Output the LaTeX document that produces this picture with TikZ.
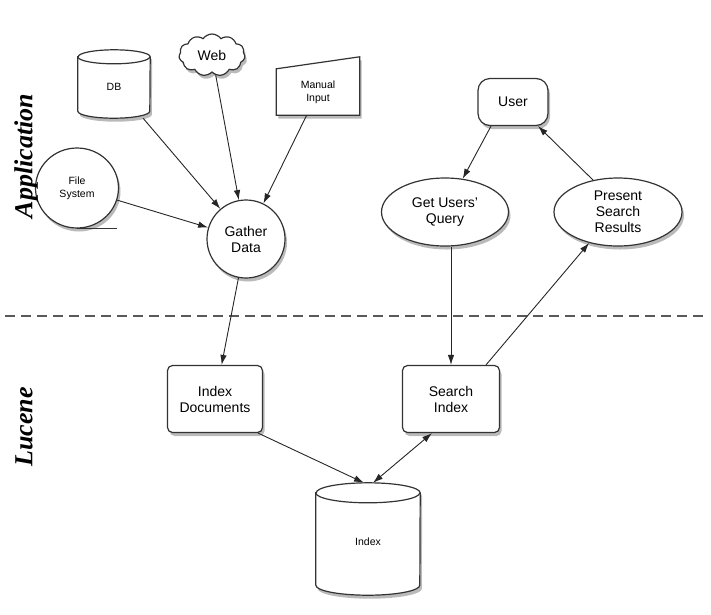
\documentclass[tikz,border=0pt]{standalone}
\usepackage{fontspec}
\setmainfont{Liberation Sans}
\newfontfamily\lanefont{Liberation Serif}
\usetikzlibrary{arrows.meta,positioning,shapes.geometric,shapes.symbols,shadows}
\pgfdeclarelayer{background}
\pgfsetlayers{background,main}

\begin{document}
\begin{tikzpicture}[x=1pt,y=-1pt,
  every node/.style={font=\fontsize{14}{16}\selectfont},
  shade/.style={drop shadow={shadow xshift=2pt,shadow yshift=-3.5pt,opacity=0.45,fill=black!60}},
  small/.style={font=\fontsize{10.5}{13}\selectfont},
  outline/.style={draw=black!80,line width=1.2pt,fill=white,shade},
  store/.style={rectangle,align=center,small},
  source/.style={ellipse,outline,align=center},
  block/.style={rectangle,rounded corners=5pt,outline,align=center,minimum width=95pt,minimum height=67pt},
  arrow/.style={-{Latex[length=10pt,width=6.5pt]},line width=0.9pt,draw=black!85},
  twoway/.style={{Latex[length=10pt,width=6.5pt]}-{Latex[length=10pt,width=6.5pt]},line width=0.9pt,draw=black!85},
  lid/.style={draw=black!80,line width=1.2pt},
  lane/.style={font=\lanefont\bfseries\itshape\fontsize{26}{28}\selectfont,rotate=90}
]
\useasboundingbox (0,0) rectangle (711,614);

% data sources
\node[store, minimum width=72pt, minimum height=68pt] (db) at (114,84) {\\DB};
\node[cloud, cloud puffs=11, cloud puff arc=110, aspect=1.6, outline, minimum width=66pt, minimum height=42pt, inner sep=0pt] (web) at (212,55) {Web};
\node[small, align=center, minimum width=83pt, minimum height=46pt] (manual) at (318,92) {Manual\\Input};
\node[source, small, minimum width=83pt, minimum height=80pt] (fs) at (77,188) {File\\System};
\draw[line width=1.2pt, draw=black!80] (fs.south) -- ++(40,0);
\node[circle, outline, align=center, minimum size=78pt, inner sep=0pt] (gather) at (246,239) {Gather\\Data};

% search side
\node[rectangle, rounded corners=12pt, outline, minimum width=70pt, minimum height=47pt] (user) at (513,102) {User};
\node[source, minimum width=127pt, minimum height=68pt] (query) at (445,212) {Get Users'\\Query};
\node[source, minimum width=128pt, minimum height=68pt, inner sep=0pt] (present) at (618,212) {Present\\Search\\Results};

% lucene side
\node[block] (idoc) at (215,399) {Index\\Documents};
\node[block, minimum width=97pt] (sidx) at (451,399) {Search\\Index};
\node[store, minimum width=104pt, minimum height=112pt] (index) at (368,539) {\\Index};

% drums and the slanted input card
\begin{pgfonlayer}{background}
\draw[outline] (manual.south west) -- (manual.south east) -- ([yshift=12pt]manual.north east) -- (manual.north west) -- cycle;
\foreach \c/\rx/\ry in {db/36/7,index/52/10} {
  \draw[outline] ([yshift=-\ry pt]\c.north west) -- ([yshift=\ry pt]\c.south west)
    arc[start angle=180, end angle=360, x radius=\rx pt, y radius=\ry pt]
    -- ([yshift=-\ry pt]\c.north east)
    arc[start angle=0, end angle=180, x radius=\rx pt, y radius=\ry pt] -- cycle;
  \draw[lid] ([yshift=-\ry pt]\c.north west)
    arc[start angle=180, end angle=360, x radius=\rx pt, y radius=\ry pt];
}
\end{pgfonlayer}

% layer split
\coordinate (sepL) at (5,316);
\coordinate (sepR) at (705,316);
\draw[line width=1.3pt, draw=black!65, dash pattern=on 10pt off 6pt] (sepL) -- (sepR);
\node[lane] (app) at (26,156) {Application};
\node[lane] (luc) at (24,427) {Lucene};

\draw[arrow] (db) -- (gather);
\draw[arrow] (web) -- (gather);
\draw[arrow] (manual) -- (gather);
\draw[arrow] (fs) -- (gather);
\draw[arrow] (gather) -- (idoc);
\draw[arrow] ([xshift=-22pt]user.south) -- (query.62);
\draw[arrow] (present.128) -- ([xshift=25pt]user.south);
\draw[arrow] (query.south -| sidx.north) -- (sidx.north);
\draw[arrow] ([xshift=35pt]sidx.north) -- (present.227);
\draw[arrow] ([xshift=-5pt]idoc.south east) -- ([xshift=-4pt]index.north);
\draw[twoway] ([xshift=5pt]index.north) -- ([xshift=-19pt]sidx.south);
\end{tikzpicture}
\end{document}
